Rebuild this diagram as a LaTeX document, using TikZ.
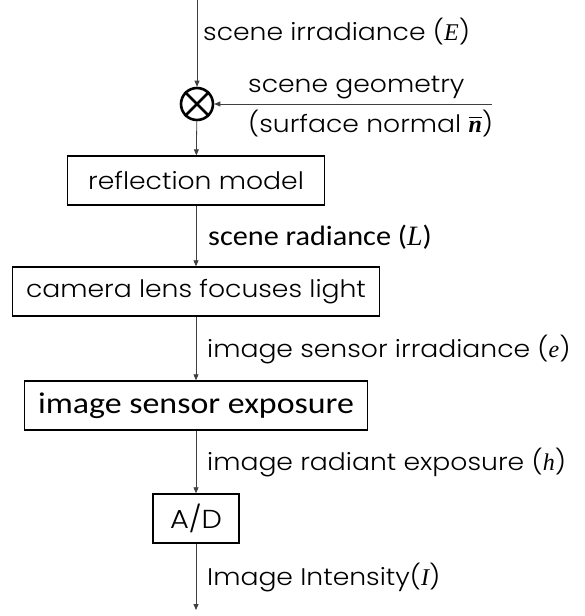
\documentclass[tikz,border=0pt]{standalone}
\usepackage{amsmath}
\usepackage{fontspec}
\setmainfont{Poppins}[FakeStretch=1.11, UprightFont=* Light]
\newfontfamily\calib{Carlito}[FakeStretch=1.08]
\newfontfamily\calibw{Carlito}[FakeStretch=1.13]
\newfontfamily\mvar{Liberation Serif}
\newcommand{\mv}[1]{{\mvar\itshape #1}}
\usetikzlibrary{arrows.meta}
\begin{document}
\begin{tikzpicture}[x=1pt,y=-1pt,
  box/.style={draw, line width=1.4pt, minimum height=49pt, inner sep=0pt, font=\fontsize{24}{26}\selectfont},
  arr/.style={-{Triangle[length=6pt,width=5pt]}, line width=0.8pt, draw=black!75},
  lbl/.style={anchor=base west, inner sep=0pt, font=\fontsize{24}{26}\selectfont},
  clbl/.style={anchor=base west, inner sep=0pt, font=\calib\fontsize{28}{30}\selectfont}]
\useasboundingbox (0,0) rectangle (584,616);
\coordinate (top) at (197,0);
\coordinate (in) at (492,104);
\node[draw, circle, line width=2.6pt, minimum size=32pt, inner sep=0pt] (m) at (197,104) {};
\draw[line width=2.6pt] (m.45) -- (m.225) (m.135) -- (m.315);
\node[box, minimum width=257pt] (refl) at (196,180.5) {reflection model};
\node[box, minimum width=367pt] (cam) at (196,291.5) {camera lens focuses light};
\node[box, minimum width=343pt, font=\calibw\fontsize{30}{32}\selectfont] (sens) at (196,405.5) {image sensor exposure};
\node[box, minimum width=86pt, font=\fontsize{26}{28}\selectfont] (ad) at (196,518.5) {A/D};
\coordinate (out) at (196,610);
\draw[arr] (top) -- (m);
\draw[arr] (in) -- (m);
\draw[arr] (m) -- (refl);
\draw[arr] (refl) -- (cam);
\draw[arr] (cam) -- (sens);
\draw[arr] (sens) -- (ad);
\draw[arr] (ad) -- (out);
\node[lbl] (l1) at (203,40) {scene irradiance (\mv{E})};
\node[lbl] (l2) at (248,92) {scene geometry};
\node[lbl] (l3) at (248,132) {(surface normal $\overline{\hbox{\mvar\bfseries\itshape n}}$)};
\node[clbl] (l4) at (208,245) {scene radiance (\mv{L})};
\node[lbl] (l5) at (207,357) {image sensor irradiance (\mv{e})};
\node[lbl] (l6) at (207,470) {image radiant exposure (\mv{h})};
\node[lbl] (l7) at (207,585) {Image Intensity(\mv{I})};
\end{tikzpicture}
\end{document}
